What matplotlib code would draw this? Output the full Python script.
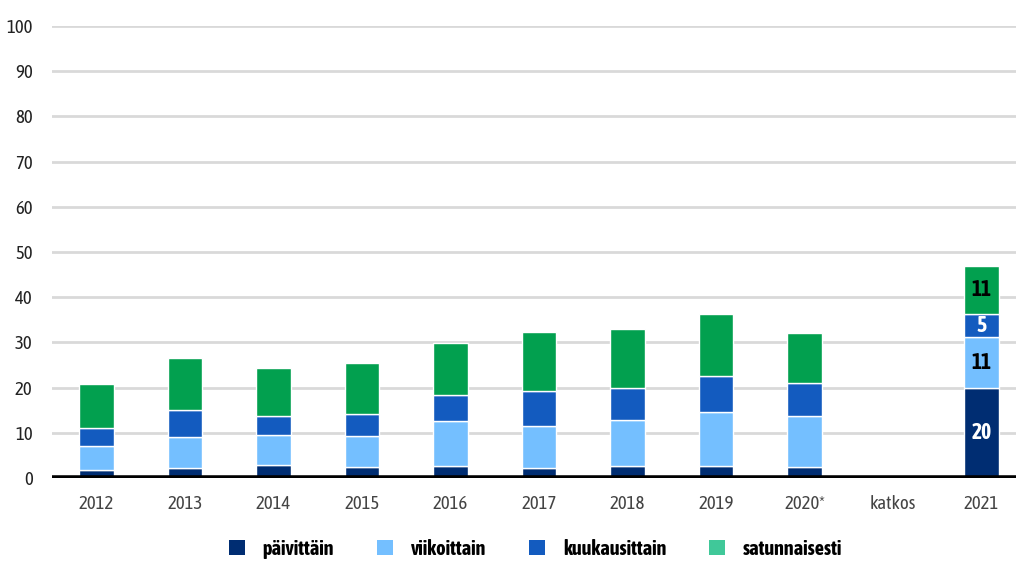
import matplotlib.pyplot as plt
import numpy as np
from matplotlib.patches import Patch

plt.rcParams['font.family'] = ['Asap Condensed', 'Noto Sans', 'DejaVu Sans']

# data
categories = ['2012', '2013', '2014', '2015', '2016', '2017', '2018', '2019', '2020*', 'katkos', '2021']
paivittain = [1.8, 2.1, 2.8, 2.5, 2.6, 2.1, 2.6, 2.7, 2.4, np.nan, 19.8]
viikoittain = [5.2, 6.9, 6.7, 6.8, 9.9, 9.3, 10.2, 11.9, 11.3, np.nan, 11.3]
kuukausittain = [4.1, 6.0, 4.2, 4.9, 5.9, 7.8, 7.0, 8.0, 7.4, np.nan, 5.2]
satunnaisesti = [9.6, 11.6, 10.6, 11.2, 11.5, 13.2, 13.1, 13.7, 10.9, np.nan, 10.6]

series = [
    ('päivittäin', paivittain, '#002d72', '#002d72', 'white'),
    ('viikoittain', viikoittain, '#74bfff', '#74bfff', 'black'),
    ('kuukausittain', kuukausittain, '#135bbf', '#135bbf', 'white'),
    ('satunnaisesti', satunnaisesti, '#02a04f', '#40c899', 'black'),
]

fig = plt.figure(figsize=(10.16, 5.62), dpi=100)
ax = fig.add_axes([0.0512, 0.1495, 0.9488, 0.8042])

x = np.arange(len(categories))
bottom = np.zeros(len(categories))
handles = []
for name, vals, col, legcol, txtcol in series:
    v = np.array(vals, dtype=float)
    ax.bar(x, np.nan_to_num(v), 0.39, bottom=bottom, color=col,
           edgecolor='white', linewidth=1.0, zorder=3)
    # labels only on the last bar
    i = len(categories) - 1
    ax.text(x[i], bottom[i] + v[i] / 2, f'{v[i]:.0f}', ha='center', va='center',
            color=txtcol, fontsize=15.5, fontweight='bold', zorder=4)
    bottom += np.nan_to_num(v)
    handles.append(Patch(facecolor=legcol, edgecolor='none', label=name))

ax.set_ylim(0, 100)
ax.set_xlim(-0.5, 10.39)
ax.set_yticks(np.arange(0, 101, 10))
ax.set_xticks(x)
ax.set_xticklabels(categories)
ax.tick_params(axis='both', length=0, labelsize=13.5)
ax.tick_params(axis='y', pad=14, colors='#222222')
ax.tick_params(axis='x', pad=12, colors='#444444')
ax.grid(axis='y', color='#d9d9d9', linewidth=2, zorder=0)
ax.set_axisbelow(True)
for s in ax.spines.values():
    s.set_visible(False)
ax.axhline(0, color='black', linewidth=4, zorder=5)

fig.legend(handles=handles, loc='center', bbox_to_anchor=(0.527, 0.024), ncol=4,
           frameon=False, handlelength=0.8, handleheight=0.8, handletextpad=0.9,
           columnspacing=2.1, prop={'weight': 'bold', 'size': 14.5})

fig.savefig('out.png', dpi=100)
